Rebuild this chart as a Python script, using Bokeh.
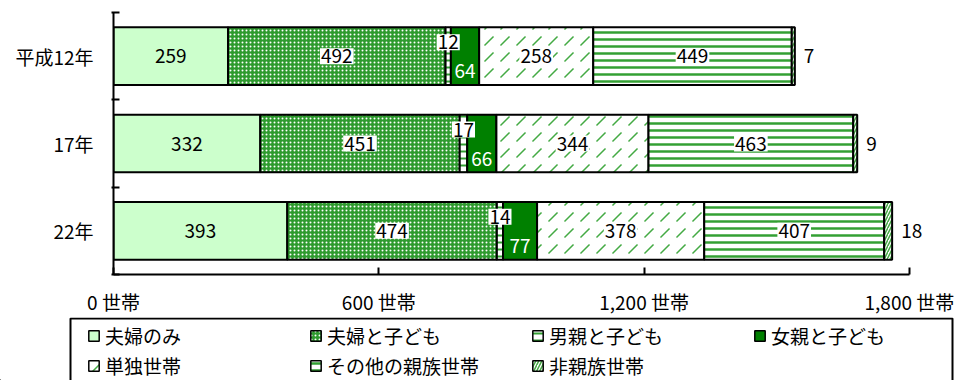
from bokeh.plotting import figure
from bokeh.models import Range1d, FixedTicker, Legend, LegendItem
from bokeh.layouts import column
from bokeh.core.properties import value
from bokeh.embed import file_html
from bokeh.resources import INLINE

# ---- data ----
years = ["平成12年", "17年", "22年"]
series_names = ["夫婦のみ", "夫婦と子ども", "男親と子ども", "女親と子ども",
                "単独世帯", "その他の親族世帯", "非親族世帯"]
fufu_nomi = [259, 332, 393]
fufu_kodomo = [492, 451, 474]
otokooya_kodomo = [12, 17, 14]
onnaoya_kodomo = [64, 66, 77]
tandoku = [258, 344, 378]
sonota_shinzoku = [449, 463, 407]
hishinzoku = [7, 9, 18]
x_ticks = [0, 600, 1200, 1800]
x_tick_labels = ["0 世帯", "600 世帯", "1,200 世帯", "1,800 世帯"]

values_list = [fufu_nomi, fufu_kodomo, otokooya_kodomo, onnaoya_kodomo,
               tandoku, sonota_shinzoku, hishinzoku]

# ---- styles ----
styles = [
    dict(fill_color="#CCFFCC", hatch_pattern=" "),
    dict(fill_color="#2E9A2E", hatch_pattern="dot", hatch_color="white", hatch_scale=4, hatch_weight=1),
    dict(fill_color="white", hatch_pattern="horizontal_line", hatch_color="#33A033", hatch_scale=7, hatch_weight=2),
    dict(fill_color="#008000", hatch_pattern=" "),
    dict(fill_color="white", hatch_pattern="right_diagonal_dash", hatch_color="#44AA44", hatch_scale=16, hatch_weight=1.5),
    dict(fill_color="white", hatch_pattern="horizontal_line", hatch_color="#33A033", hatch_scale=7, hatch_weight=2.5),
    dict(fill_color="white", hatch_pattern="right_diagonal_line", hatch_color="#44AA44", hatch_scale=6, hatch_weight=1.5),
]
label_modes = ["plain", "bg", "above", "below", "bg", "bg", "outside"]

FONT_NAME = "Noto Sans CJK JP"
FONT = value(FONT_NAME)
FS = "19px"

n = len(years)
ys = [i + 0.5 for i in range(n)]

p = figure(width=957, height=317, output_backend="svg", toolbar_location=None,
           x_range=Range1d(0, 1893), y_range=Range1d(n, 0),
           min_border_left=113, min_border_right=7, min_border_top=12, min_border_bottom=40)
p.outline_line_color = None
p.grid.visible = False
p.frame_align = False

label_specs = []
lefts = [0] * n
for name, vals, st, mode in zip(series_names, values_list, styles, label_modes):
    rights = [l + v for l, v in zip(lefts, vals)]
    p.hbar(y=ys, left=lefts, right=rights, height=0.66,
           line_color="black", line_width=2, **st)
    label_specs.append((lefts, rights, vals, mode))
    lefts = rights

for lefts_, rights_, vals, mode in label_specs:
    mids = [(l + rr) / 2 for l, rr in zip(lefts_, rights_)]
    common = dict(text=[str(v) for v in vals], text_font=FONT, text_font_size=FS,
                  text_baseline="middle")
    if mode == "plain":
        p.text(x=mids, y=ys, text_align="center", text_color="black", **common)
    elif mode == "bg":
        p.text(x=mids, y=ys, text_align="center", text_color="black",
               background_fill_color="white", padding=1, **common)
    elif mode == "above":
        p.text(x=mids, y=ys, text_align="center", text_color="black", y_offset=-14,
               background_fill_color="white", padding=1, **common)
    elif mode == "below":
        p.text(x=mids, y=ys, text_align="center", text_color="white", y_offset=15, **common)
    elif mode == "outside":
        p.text(x=rights_, y=ys, text_align="left", text_color="black", x_offset=9, **common)

# x axis
xa = p.xaxis[0]
xa.ticker = FixedTicker(ticks=x_ticks)
xa.bounds = (x_ticks[0], x_ticks[-1])
xa.major_label_overrides = {t: l for t, l in zip(x_ticks, x_tick_labels)}
xa.major_tick_in = 7
xa.major_tick_out = 0
xa.minor_tick_line_color = None
xa.axis_line_width = 2
xa.major_tick_line_width = 2
xa.axis_line_color = "black"
xa.major_tick_line_color = "black"
xa.major_label_text_font = FONT_NAME
xa.major_label_text_font_size = FS
xa.major_label_text_color = "black"
xa.major_label_standoff = 13

# y axis
ya = p.yaxis[0]
ya.ticker = FixedTicker(ticks=ys, minor_ticks=list(range(n + 1)))
ya.major_label_overrides = {y: l for y, l in zip(ys, years)}
ya.major_tick_in = 0
ya.major_tick_out = 0
ya.minor_tick_in = 6
ya.minor_tick_out = 2
ya.minor_tick_line_width = 2
ya.minor_tick_line_color = "black"
ya.axis_line_width = 2
ya.axis_line_color = "black"
ya.major_label_text_font = FONT_NAME
ya.major_label_text_font_size = FS
ya.major_label_text_color = "black"
ya.major_label_standoff = 18

# ---- legend strip ----
p2 = figure(width=957, height=63, output_backend="svg", toolbar_location=None,
            x_range=Range1d(0, 957), y_range=Range1d(0, 63),
            x_axis_location=None, y_axis_location=None,
            min_border_left=0, min_border_right=0, min_border_top=0, min_border_bottom=0)
p2.outline_line_color = None
p2.grid.visible = False
p2.frame_align = False
# legend frame (box open at the bottom edge, as in the reference)
p2.quad(left=[70], right=[952], top=[62], bottom=[-10],
        fill_color=None, line_color="black", line_width=2)

items = []
for name, st in zip(series_names, styles):
    # swatch-only renderer, placed far outside the visible range
    dr = p2.hbar(y=[-5000], left=[-5000], right=[-4999], height=1,
                 line_color="black", line_width=1.5, **st)
    items.append(LegendItem(label=name, renderers=[dr]))

legend = Legend(items=items, orientation="horizontal", ncols=4,
                location=(87, 1),
                glyph_width=13, glyph_height=13, label_standoff=5,
                label_width=202, label_height=28, spacing=2, padding=0,
                label_text_font=FONT_NAME, label_text_font_size=FS,
                label_text_color="black",
                border_line_color=None, background_fill_alpha=0)
p2.add_layout(legend, "center")

layout = column(p, p2, spacing=0)
open("out.html", "w").write(file_html(layout, INLINE))
